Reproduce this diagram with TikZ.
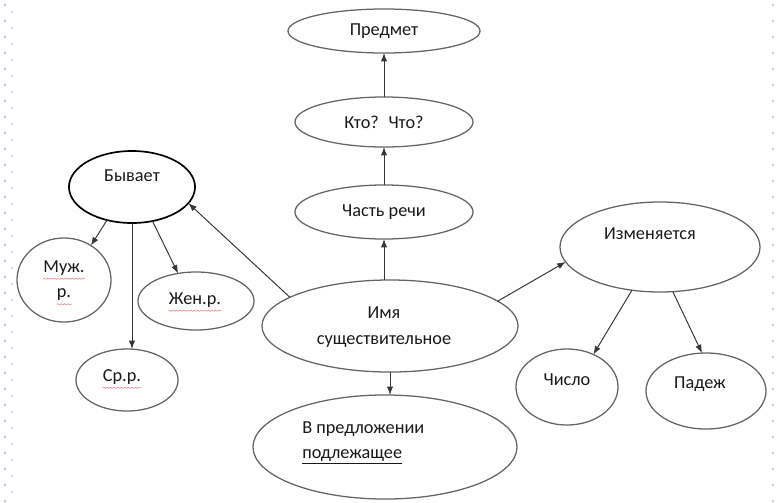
\documentclass[tikz,border=0pt]{standalone}
\usepackage{fontspec}
\setmainfont{Carlito}
\usepackage{tikz}
\usetikzlibrary{positioning,shapes.geometric,arrows.meta,decorations.pathmorphing}
\definecolor{lineGray}{RGB}{100,100,100}
\definecolor{arrGray}{RGB}{55,55,55}
\definecolor{dotLilac}{RGB}{172,166,208}
\definecolor{spellRed}{RGB}{235,120,120}

\tikzset{
	bub/.style={ellipse, draw=lineGray, line width=0.9pt, inner sep=0pt, outer sep=0pt},
	txt/.style={font=\fontsize{13}{17}\selectfont, text=black!90, align=center, inner sep=0pt},
	arr/.style={draw=arrGray, line width=0.7pt, -{Latex[length=6pt,width=4.5pt]}},
	wavy/.style={draw=spellRed, line width=0.35pt, decorate, decoration={snake, amplitude=0.45pt, segment length=2.5pt}}
}

\begin{document}
\begin{tikzpicture}[x=0.025cm, y=-0.025cm]
	\useasboundingbox (0, 0) rectangle (776, 502);
	% dotted page margins
	\foreach \k in {0, 1, ..., 31}{
		\fill[dotLilac] (5, 5 + 16 * \k) circle (1.1);
		\fill[dotLilac] (12, 12 + 16 * \k) circle (0.9);
		\fill[dotLilac] (773, 5 + 16 * \k) circle (1.0);
	}
	% centre column
	\node[bub, minimum width=4.8cm, minimum height=1.1cm] (pred) at (384, 31) {};
	\node[txt] at (pred.center) {Предмет};
	\node[bub, minimum width=4.45cm, minimum height=1.25cm] (kto) at (384, 122) {};
	\node[txt] at (kto.center) {Кто?~ Что?};
	\node[bub, minimum width=4.45cm, minimum height=1.35cm] (chast) at (384, 212) {};
	\node[txt] at (chast.center) {Часть речи};
	\node[bub, minimum width=6.4cm, minimum height=2.3cm] (imya) at (390, 326) {};
	\node[txt] (imyaT) at (384, 327) {Имя\\[1pt]существительное};
	\node[bub, minimum width=6.6cm, minimum height=2.6cm] (vpred) at (385, 447) {};
	\node[txt, align=left, anchor=west] (vpredT) at (302, 443) {В предложении\\[1pt]\underline{подлежащее}};
	% gender branch
	\node[bub, draw=black, line width=1.2pt, minimum width=3.15cm, minimum height=1.8cm] (byv) at (132, 187) {};
	\node[txt] at (132, 176) {Бывает};
	\node[bub, minimum width=2.35cm, minimum height=2.1cm] (muzh) at (64, 280) {};
	\node[txt] (muzhA) at (64, 268) {Муж.};
	\node[txt] (muzhB) at (64, 295) {р.};
	\node[bub, minimum width=2.9cm, minimum height=1.45cm] (zhen) at (196, 301) {};
	\node[txt] (zhenT) at (195, 300) {Жен.р.};
	\node[bub, minimum width=2.55cm, minimum height=1.55cm] (sr) at (127, 380) {};
	\node[txt] (srT) at (122, 377) {Ср.р.};
	% spelling marks
	\foreach \t in {muzhA, muzhB, zhenT, srT}{
		\draw[wavy] ([yshift=-2.2pt]\t.south west) -- ([yshift=-2.2pt]\t.south east);
	}
	% change branch
	\node[bub, minimum width=5cm, minimum height=2.25cm] (izm) at (660, 247) {};
	\node[txt] at (650, 234) {Изменяется};
	\node[bub, minimum width=2.55cm, minimum height=1.9cm] (chislo) at (567, 387) {};
	\node[txt] at (567, 380) {Число};
	\node[bub, minimum width=3cm, minimum height=1.9cm] (padezh) at (706, 391) {};
	\node[txt] at (700, 384) {Падеж};
	% connectors
	\draw[arr] (imya.north -| chast.south) -- (chast.south);
	\draw[arr] (chast.north) -- (kto.south);
	\draw[arr] (kto.north) -- (pred.south);
	\draw[arr] (imya.south) -- (imya.south |- vpred.north);
	\draw[arr] (imya.164) -- (byv.-16);
	\draw[arr] (imya.13) -- (izm.189);
	\draw[arr] (byv.233) -- (muzh.52);
	\draw[arr] (byv.south) -- (byv.south |- sr.north);
	\draw[arr] (byv.-59) -- (zhen.123);
	\draw[arr] (izm.-123) -- (chislo.51);
	\draw[arr] (izm.-74) -- (padezh.96);
\end{tikzpicture}
\end{document}
